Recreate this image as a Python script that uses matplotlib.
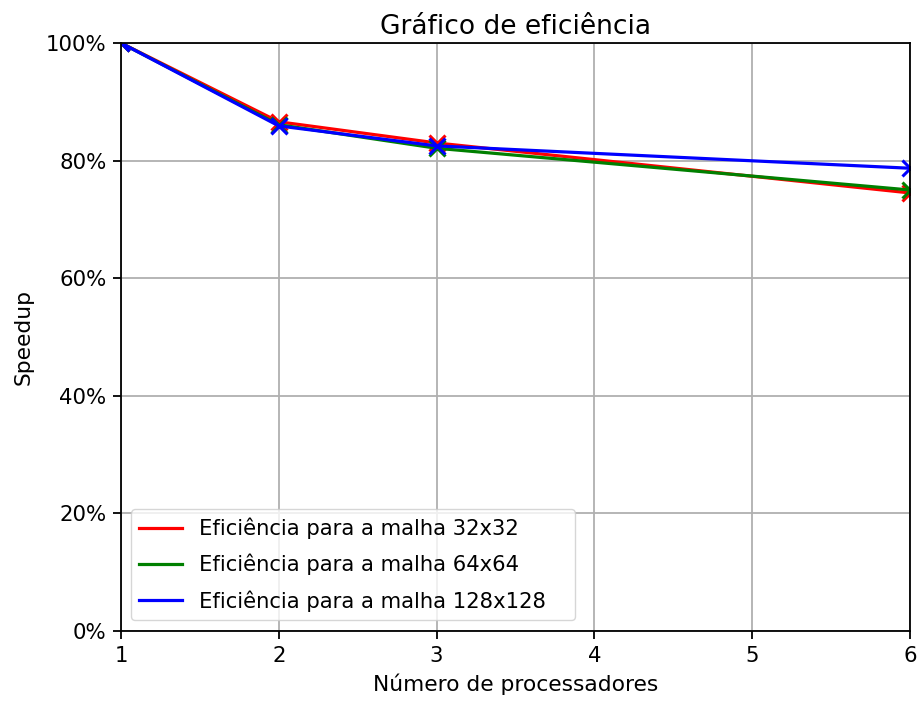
import matplotlib
matplotlib.use("Agg")
import matplotlib.pyplot as plt
from matplotlib.ticker import PercentFormatter

processadores = [1, 2, 3, 6]
eficiencia_32 = [1.0, 0.866, 0.830, 0.745]
eficiencia_64 = [1.0, 0.861, 0.821, 0.750]
eficiencia_128 = [1.0, 0.859, 0.825, 0.787]

series = [
    (eficiencia_32, "red", "Eficiência para a malha 32x32"),
    (eficiencia_64, "green", "Eficiência para a malha 64x64"),
    (eficiencia_128, "blue", "Eficiência para a malha 128x128"),
]

fig = plt.figure(figsize=(9.18, 7.04), dpi=100)
ax = fig.add_axes([121 / 918, 1 - 631 / 704, (910 - 121) / 918, (631 - 43) / 704])

for valores, cor, rotulo in series:
    ax.plot(processadores, valores, color=cor, linewidth=2.3, label=rotulo)
    ax.plot(processadores, valores, color=cor, linestyle="none", marker="x",
            markersize=11, markeredgewidth=2.2)

ax.set_xlim(1, 6)
ax.set_ylim(0, 1)
ax.yaxis.set_major_formatter(PercentFormatter(1.0, decimals=0))
ax.grid(True, linewidth=1.3)
for s in ax.spines.values():
    s.set_linewidth(1.3)
ax.tick_params(labelsize=15.3, width=1.3, length=5.5, pad=5)
ax.set_title("Gráfico de eficiência", fontsize=19, pad=6.5)
ax.set_xlabel("Número de processadores", fontsize=15.7, labelpad=6)
ax.set_ylabel("Speedup", fontsize=15.7, labelpad=9)
ax.legend(loc="lower left", fontsize=15.2, handlelength=2.0, labelspacing=0.69,
          bbox_to_anchor=(0.0127, 0.0187, 0.5627, 0.1), mode="expand",
          borderaxespad=0)

fig.savefig("out.png", dpi=100)
